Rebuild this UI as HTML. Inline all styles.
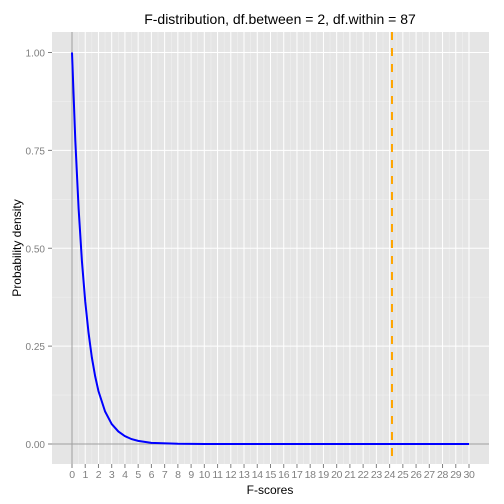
<!DOCTYPE html>
<html><head><meta charset="utf-8"><style>body{margin:0;background:#fff}svg{display:block;font-family:"Liberation Sans",sans-serif}</style></head>
<body>
<svg id="c" width="504" height="504"></svg>
<script>
const xVals=[0,0.25,0.5,0.75,1,1.25,1.5,1.75,2,2.5,3,3.5,4,4.5,5,6,8,10,15,20,25,30];
const yVals=[1.0,0.775,0.601,0.467,0.364,0.284,0.221,0.173,0.135,0.083,0.051,0.032,0.020,0.0125,0.008,0.003,0.0005,0.0001,0,0,0,0];
const xTicks=[0,1,2,3,4,5,6,7,8,9,10,11,12,13,14,15,16,17,18,19,20,21,22,23,24,25,26,27,28,29,30];
const yTicks=[0,0.25,0.5,0.75,1];
const yTickLabels=["0.00","0.25","0.50","0.75","1.00"];
const critical=[24.18];
const NS="http://www.w3.org/2000/svg";
const svg=document.getElementById('c');
const L=52,R=489,T=32,B=464;
const sx=v=>72+v*(469-72)/30;
const sy=v=>444-v*(444-52.5);
function el(t,a,p){const e=document.createElementNS(NS,t);for(const k in a)e.setAttribute(k,a[k]);(p||svg).appendChild(e);return e;}
const panel=el('rect',{x:L,y:T,width:R-L,height:B-T,fill:'#e5e5e5'});


for(let i=0;i<xTicks.length-1;i++){const v=(xTicks[i]+xTicks[i+1])/2;el('line',{x1:sx(v),x2:sx(v),y1:T,y2:B,stroke:'#f2f2f2','stroke-width':0.5});}
for(let i=0;i<yTicks.length-1;i++){const v=(yTicks[i]+yTicks[i+1])/2;el('line',{x1:L,x2:R,y1:sy(v),y2:sy(v),stroke:'#f2f2f2','stroke-width':0.5});}
xTicks.forEach(v=>{
 const g=el('line',{x1:sx(v),x2:sx(v),y1:T,y2:B,stroke:'#fff','stroke-width':1});
 
 
 el('line',{x1:sx(v),x2:sx(v),y1:B,y2:B+4,stroke:'#7f7f7f'});
 const t=el('text',{x:sx(v),y:B+14,'text-anchor':'middle','font-size':10.5,fill:'#7f7f7f','letter-spacing':'-0.3'});t.textContent=v;
 
 
});
yTicks.forEach((v,i)=>{
 el('line',{x1:L,x2:R,y1:sy(v),y2:sy(v),stroke:'#fff','stroke-width':1});
 el('line',{x1:L-4,x2:L,y1:sy(v),y2:sy(v),stroke:'#7f7f7f'});
 const t=el('text',{x:L-7,y:sy(v)+4,'text-anchor':'end','font-size':10,fill:'#7f7f7f'});t.textContent=yTickLabels[i];
 
 
});
el('line',{x1:sx(0),x2:sx(0),y1:T,y2:B,stroke:'#a0a0a0','stroke-width':1});
el('line',{x1:L,x2:R,y1:sy(0),y2:sy(0),stroke:'#a0a0a0','stroke-width':1});
const c=el('polyline',{points:xVals.map((x,i)=>sx(x)+','+sy(yVals[i])).join(' '),fill:'none',stroke:'#0000ff','stroke-width':2});


critical.forEach(v=>{const d=el('line',{x1:sx(v),x2:sx(v),y1:T,y2:B,stroke:'#ffa500','stroke-width':2,'stroke-dasharray':'8,8'});
 
 });
const tt=el('text',{x:280,y:24,'text-anchor':'middle','font-size':14,fill:'#000'});tt.textContent='F-distribution, df.between = 2, df.within = 87';


const xt=el('text',{x:270,y:494,'text-anchor':'middle','font-size':12,fill:'#000'});xt.textContent='F-scores';


const yt=el('text',{x:0,y:0,'text-anchor':'middle','font-size':12,fill:'#000',transform:'translate(21,248) rotate(-90)'});yt.textContent='Probability density';


</script>
</body></html>
